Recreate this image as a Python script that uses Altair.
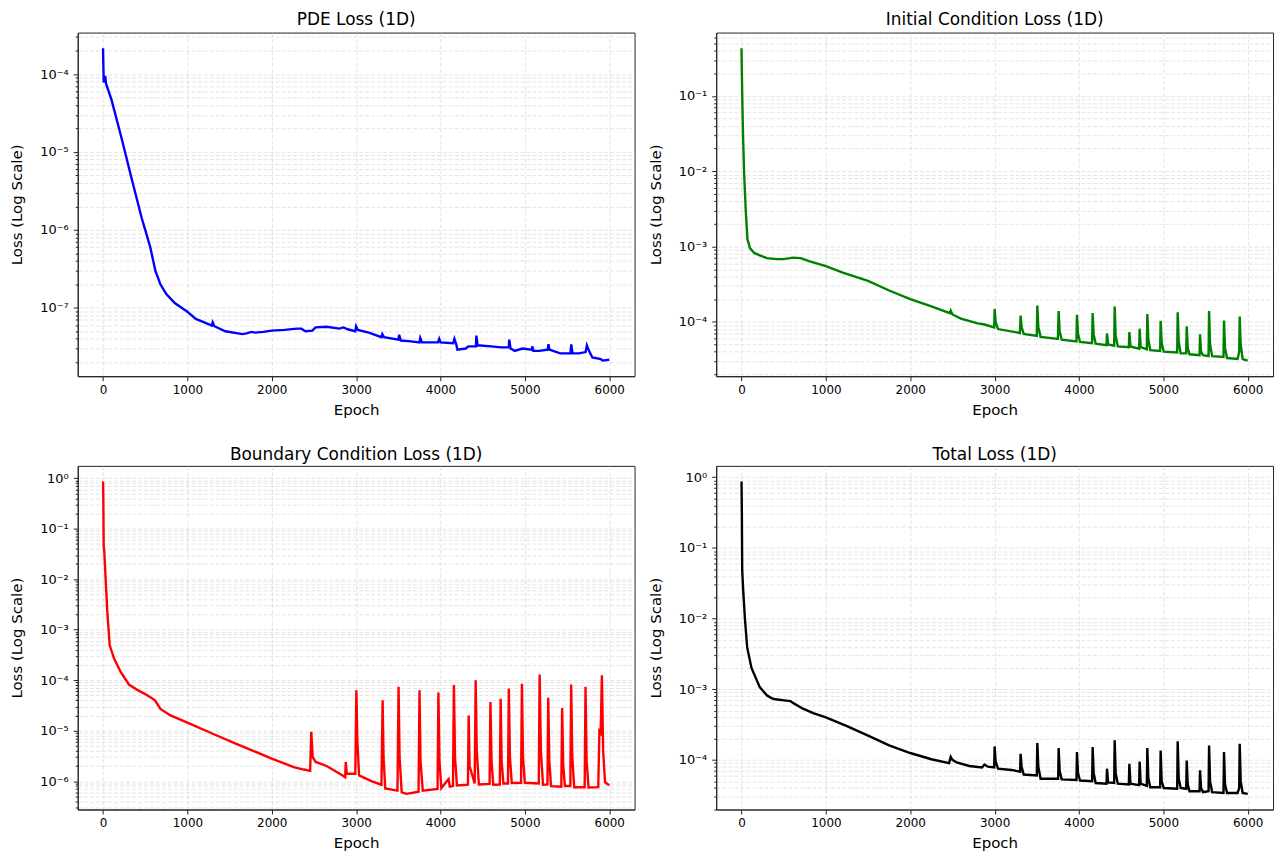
import math
import altair as alt
import numpy as np
import pandas as pd

# ---------------- data ----------------
pde_epoch = [0, 8, 15, 25, 35, 100, 220, 340, 460, 500, 560, 620, 680, 750, 850, 1000, 1100, 1200,
             1290, 1300, 1320, 1450, 1650, 1700, 1760, 1800, 1900, 2000, 2150, 2300, 2350, 2400, 2480,
             2520, 2650, 2800, 2850, 2900, 2990, 3000, 3020, 3150, 3300, 3310, 3330, 3500, 3510, 3530,
             3650, 3750, 3760, 3780, 3970, 3985, 4000, 4150, 4165, 4190, 4200, 4300, 4330, 4420, 4425,
             4440, 4600, 4720, 4810, 4815, 4830, 4880, 4970, 5080, 5090, 5100, 5170, 5270, 5280, 5290,
             5420, 5540, 5550, 5565, 5640, 5720, 5735, 5760, 5800, 5900, 5920, 6000]
pde_loss = [2.15e-4, 7.8e-5, 8.5e-5, 9.5e-5, 7.6e-5, 4.7e-5, 1.5e-5, 4.5e-6, 1.4e-6, 1.0e-6, 6.0e-7,
            3.0e-7, 2.0e-7, 1.5e-7, 1.15e-7, 8.9e-8, 7.2e-8, 6.5e-8, 5.9e-8, 6.5e-8, 5.8e-8,
            5.0e-8, 4.6e-8, 4.7e-8, 4.9e-8, 4.8e-8, 4.9e-8, 5.1e-8, 5.2e-8, 5.4e-8, 5.4e-8, 5.0e-8,
            5.1e-8, 5.6e-8, 5.7e-8, 5.4e-8, 5.6e-8, 5.3e-8, 5.0e-8, 5.8e-8, 5.2e-8, 4.8e-8, 4.2e-8,
            4.6e-8, 4.2e-8, 3.9e-8, 4.5e-8, 3.8e-8, 3.7e-8, 3.6e-8, 4.1e-8, 3.6e-8, 3.6e-8, 4.0e-8,
            3.6e-8, 3.5e-8, 4.0e-8, 3.3e-8, 2.9e-8, 3.0e-8, 3.2e-8, 3.2e-8, 4.4e-8, 3.3e-8, 3.2e-8,
            3.1e-8, 3.1e-8, 3.9e-8, 3.0e-8, 2.8e-8, 3.0e-8, 2.9e-8, 3.2e-8, 2.8e-8, 2.8e-8, 2.9e-8,
            3.4e-8, 2.9e-8, 2.6e-8, 2.6e-8, 3.4e-8, 2.6e-8, 2.6e-8, 2.7e-8, 3.3e-8, 2.8e-8, 2.3e-8,
            2.2e-8, 2.1e-8, 2.15e-8]

ic_epoch = [0, 4, 10, 18, 30, 50, 70, 100, 150, 216, 300, 413, 500, 610, 700, 800, 1000, 1200, 1500,
            1750, 2000, 2250, 2470, 2480, 2500, 2600, 2800, 2880, 2995, 3000, 3012, 3040, 3300, 3308,
            3320, 3345, 3500, 3506, 3518, 3545, 3750, 3759, 3771, 3795, 3970, 3976, 3988, 4012, 4155,
            4162, 4174, 4198, 4326, 4332, 4345, 4417, 4423, 4435, 4460, 4591, 4597, 4610, 4713, 4719,
            4731, 4804, 4810, 4822, 4845, 4962, 4968, 4980, 5005, 5164, 5170, 5182, 5205, 5271, 5277,
            5289, 5310, 5429, 5435, 5447, 5470, 5536, 5542, 5554, 5578, 5713, 5719, 5731, 5755, 5880,
            5899, 5905, 5917, 5940, 6000]
ic_loss = [0.43, 0.2, 0.08, 0.03, 0.01, 3e-3, 1.25e-3, 9.5e-4, 8.2e-4, 7.6e-4, 7.0e-4, 6.8e-4, 6.8e-4,
           7.1e-4, 7.0e-4, 6.4e-4, 5.5e-4, 4.5e-4, 3.5e-4, 2.6e-4, 2.0e-4, 1.6e-4, 1.3e-4, 1.4e-4,
           1.25e-4, 1.1e-4, 9.5e-5, 9.2e-5, 8.4e-5, 1.48e-4, 1.0e-4, 8.0e-5, 7.1e-5, 1.21e-4, 8.5e-5,
           6.9e-5, 6.5e-5, 1.64e-4, 8.5e-5, 6.3e-5, 5.9e-5, 1.39e-4, 7.5e-5, 5.8e-5, 5.5e-5, 1.24e-4,
           7e-5, 5.4e-5, 5.2e-5, 1.31e-4, 6.8e-5, 5.1e-5, 4.9e-5, 7.0e-5, 5.0e-5, 4.8e-5, 1.59e-4,
           6.5e-5, 4.7e-5, 4.6e-5, 7.3e-5, 4.7e-5, 4.4e-5, 8.1e-5, 4.6e-5, 4.3e-5, 1.27e-4, 5.8e-5,
           4.2e-5, 4.1e-5, 1.03e-4, 5.2e-5, 4.0e-5, 3.9e-5, 1.34e-4, 5.5e-5, 3.8e-5, 3.8e-5, 8.7e-5,
           4.5e-5, 3.7e-5, 3.6e-5, 6.8e-5, 4e-5, 3.6e-5, 3.5e-5, 1.39e-4, 5e-5, 3.5e-5, 3.4e-5,
           1.04e-4, 4.5e-5, 3.3e-5, 3.2e-5, 4.0e-5, 1.17e-4, 5e-5, 3.2e-5, 3.05e-5]

bc_epoch = [0, 3, 6, 8, 15, 31, 51, 79, 130, 209, 307, 400, 500, 580, 620, 680, 800, 1000, 1300, 1580,
            1780, 2000, 2260, 2380, 2455, 2468, 2485, 2520, 2650, 2840, 2870, 2877, 2890, 2990, 3003,
            3015, 3035, 3180, 3300, 3314, 3325, 3345, 3490, 3503, 3515, 3540, 3600, 3740, 3751, 3763,
            3790, 3965, 3975, 3988, 4010, 4096, 4110, 4148, 4159, 4172, 4195, 4325, 4334, 4345, 4405,
            4417, 4430, 4455, 4582, 4592, 4605, 4625, 4703, 4713, 4725, 4745, 4800, 4810, 4823, 4845,
            4955, 4965, 4978, 5000, 5165, 5175, 5190, 5215, 5268, 5277, 5290, 5310, 5432, 5442, 5455,
            5475, 5539, 5549, 5562, 5585, 5709, 5719, 5732, 5755, 5870, 5884, 5898, 5913, 5928, 5950,
            6000]
bc_loss = [0.86, 0.45, 0.1, 0.045, 0.035, 0.01, 2.2e-3, 4.9e-4, 2.7e-4, 1.45e-4, 8.2e-5, 6.5e-5,
           5.3e-5, 4.4e-5, 3.9e-5, 2.7e-5, 2.0e-5, 1.45e-5, 8.7e-6, 5.5e-6, 4.0e-6, 2.8e-6, 1.9e-6,
           1.7e-6, 1.6e-6, 9.5e-6, 3.0e-6, 2.4e-6, 2.0e-6, 1.3e-6, 1.2e-6, 2.4e-6, 1.4e-6, 1.4e-6,
           6.3e-5, 6e-6, 1.3e-6, 1.0e-6, 8.5e-7, 4.0e-5, 3e-6, 7.2e-7, 6.5e-7, 7.4e-5, 3e-6, 6.0e-7,
           5.6e-7, 6.2e-7, 6.3e-5, 2.5e-6, 6.5e-7, 7.0e-7, 5.7e-5, 2.5e-6, 7.3e-7, 1.1e-6, 7.8e-7,
           8.0e-7, 8.0e-5, 3e-6, 8.2e-7, 8.5e-7, 2.0e-5, 2e-6, 9e-7, 1.0e-4, 4e-6, 8.6e-7, 8.8e-7,
           3.7e-5, 2.5e-6, 8.5e-7, 8.6e-7, 4.3e-5, 2.5e-6, 9e-7, 9e-7, 6.8e-5, 3e-6, 9.2e-7, 9.3e-7,
           8.5e-5, 3e-6, 9.3e-7, 9e-7, 1.3e-4, 4e-6, 8.5e-7, 8.6e-7, 4.5e-5, 2.5e-6, 8.0e-7, 7.8e-7,
           2.8e-5, 2e-6, 8.0e-7, 8e-7, 8.2e-5, 3e-6, 7.6e-7, 7.6e-7, 7.4e-5, 2.5e-6, 7.5e-7, 7.6e-7,
           1.1e-5, 8e-6, 1.25e-4, 4e-6, 9.5e-7, 8.3e-7]

tot_epoch = [0, 4, 8, 20, 40, 67, 118, 216, 300, 354, 400, 531, 580, 610, 728, 850, 1000, 1250, 1500,
             1750, 2000, 2250, 2460, 2480, 2500, 2550, 2700, 2850, 2880, 2920, 2995, 3000, 3012, 3040,
             3200, 3302, 3308, 3320, 3345, 3500, 3506, 3518, 3545, 3753, 3759, 3771, 3795, 3970, 3976,
             3988, 4012, 4156, 4162, 4174, 4198, 4326, 4332, 4345, 4417, 4423, 4435, 4460, 4591, 4597,
             4610, 4713, 4719, 4731, 4804, 4810, 4822, 4845, 4962, 4968, 4980, 5005, 5164, 5170, 5182,
             5205, 5271, 5277, 5289, 5310, 5429, 5435, 5447, 5470, 5536, 5542, 5554, 5578, 5713, 5719,
             5731, 5755, 5880, 5899, 5905, 5917, 5940, 6000]
tot_loss = [0.87, 0.3, 0.048, 0.025, 0.01, 3.9e-3, 2.0e-3, 1.07e-3, 8.2e-4, 7.5e-4, 7.2e-4, 6.9e-4,
            6.8e-4, 6.4e-4, 5.3e-4, 4.6e-4, 4.0e-4, 3.0e-4, 2.2e-4, 1.6e-4, 1.25e-4, 1.02e-4, 9.0e-5,
            1.1e-4, 1.0e-4, 9.2e-5, 8.2e-5, 7.8e-5, 8.6e-5, 8.0e-5, 7.8e-5, 1.55e-4, 9.5e-5, 7.5e-5,
            7.2e-5, 6.8e-5, 1.22e-4, 8e-5, 6.2e-5, 6.0e-5, 1.73e-4, 8e-5, 5.4e-5, 5.4e-5, 1.47e-4,
            7e-5, 5.3e-5, 5.2e-5, 1.29e-4, 6.5e-5, 5.1e-5, 5.0e-5, 1.52e-4, 6.5e-5, 4.7e-5, 4.6e-5,
            7.5e-5, 4.8e-5, 4.7e-5, 1.89e-4, 6.5e-5, 4.6e-5, 4.5e-5, 8.8e-5, 4.6e-5, 4.4e-5, 9.5e-5,
            4.6e-5, 4.3e-5, 1.47e-4, 5.5e-5, 4.1e-5, 4.1e-5, 1.36e-4, 5e-5, 4.0e-5, 3.9e-5, 1.83e-4,
            5.5e-5, 4.0e-5, 3.9e-5, 9.8e-5, 4.5e-5, 3.6e-5, 3.6e-5, 7.1e-5, 4.0e-5, 3.5e-5, 3.6e-5,
            1.6e-4, 5e-5, 3.5e-5, 3.4e-5, 1.29e-4, 4.5e-5, 3.4e-5, 3.4e-5, 4.0e-5, 1.69e-4, 5e-5,
            3.4e-5, 3.3e-5]

x_ticks = [0, 1000, 2000, 3000, 4000, 5000, 6000]

FONT = "DejaVu Sans"
W, H = 559, 345

IS_MAJOR = "abs(log(datum.value)/LN10 - round(log(datum.value)/LN10)) < 0.001"
EXP = "('' + round(log(datum.value)/LN10))"
sup = EXP
for a, b in [("-", "⁻"), ("0", "⁰"), ("1", "¹"), ("2", "²"), ("3", "³"), ("4", "⁴"),
             ("5", "⁵"), ("6", "⁶"), ("7", "⁷"), ("8", "⁸"), ("9", "⁹")]:
    sup = f"replace({sup}, '{a}', '{b}')"
LABEL_EXPR = f"({IS_MAJOR}) ? '10' + {sup} : ''"


def panel(title, epochs, losses, color):
    df = pd.DataFrame({"Epoch": epochs, "Loss": losses})
    lmin, lmax = math.log10(min(losses)), math.log10(max(losses))
    span = lmax - lmin
    dom = [10 ** (lmin - 0.05 * span), 10 ** (lmax + 0.05 * span)]
    yt = []
    for k in range(math.floor(lmin) - 1, math.ceil(lmax) + 2):
        for m in range(1, 10):
            v = m * 10.0 ** k
            if dom[0] <= v <= dom[1]:
                yt.append(v)
    return (
        alt.Chart(df)
        .mark_line(color=color, strokeWidth=2.4, clip=True)
        .encode(
            x=alt.X("Epoch:Q",
                    scale=alt.Scale(domain=[-300, 6300], nice=False, zero=False),
                    axis=alt.Axis(values=x_ticks, format="d", title="Epoch")),
            y=alt.Y("Loss:Q",
                    scale=alt.Scale(type="log", domain=dom, nice=False),
                    axis=alt.Axis(values=yt, labelExpr=LABEL_EXPR, title="Loss (Log Scale)",
                                  labelOverlap=False, labelFontSize=13,
                                  tickSize={"condition": {"test": IS_MAJOR, "value": 4.5}, "value": 2.5})),
        )
        .properties(width=W, height=H,
                    title=alt.TitleParams(title, fontSize=17, font=FONT, fontWeight="normal",
                                          color="#000", anchor="middle", offset=2))
    )


p1 = panel("PDE Loss (1D)", pde_epoch, pde_loss, "#0000ff")
p2 = panel("Initial Condition Loss (1D)", ic_epoch, ic_loss, "#008000")
p3 = panel("Boundary Condition Loss (1D)", bc_epoch, bc_loss, "#ff0000")
p4 = panel("Total Loss (1D)", tot_epoch, tot_loss, "#000000")

chart = (
    alt.concat(p1, p2, p3, p4, columns=2, spacing=alt.RowColnumber(row=90, column=82))
    .properties(bounds="flush", padding={"left": 1, "top": 0, "right": 5, "bottom": 2})
    .configure(font=FONT, background="white")
    .configure_view(stroke="#222", strokeWidth=1)
    .configure_axis(
        labelFont=FONT, labelFontSize=12, labelColor="#000",
        titleFont=FONT, titleFontSize=15, titleColor="#000", titleFontWeight="normal",
        domainColor="#222", domainWidth=1,
        tickColor="#222", tickWidth=1, tickSize=4.5, labelPadding=5,
        grid=True, gridColor="#c8c8c8", gridOpacity=0.6, gridDash=[4, 2], gridWidth=0.8,
    )
    .configure_axisX(titlePadding=7, labelPadding=4)
    .configure_axisY(titlePadding=15)
)

chart.save("out.html", embed_options={"renderer": "svg", "actions": False})
